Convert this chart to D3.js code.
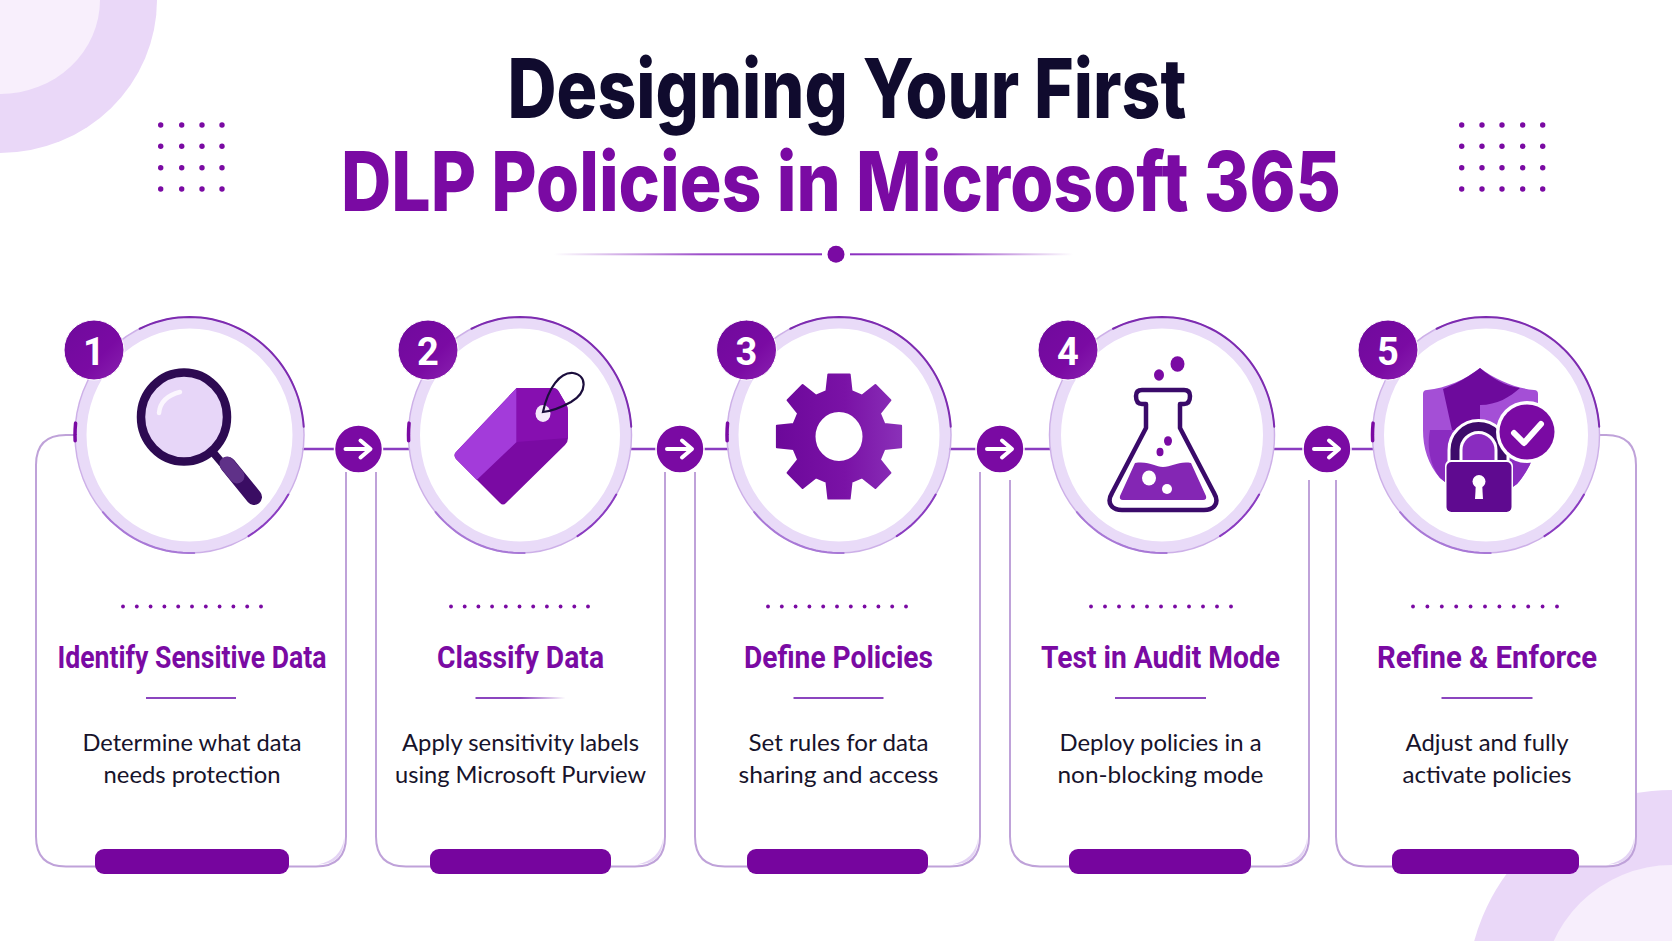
<!DOCTYPE html>
<html>
<head>
<meta charset="utf-8">
<title>Designing Your First DLP Policies in Microsoft 365</title>
<script src="https://cdn.jsdelivr.net/npm/d3@7/dist/d3.min.js"></script>
<style>
    html, body { margin: 0; padding: 0; background: #fff; overflow: hidden; }
    svg { display: block; }
</style>
</head>
<body>
<div id="chart"></div>
<script>
// chart content
const title_lines = ["Designing Your First", "DLP Policies in Microsoft 365"];
const steps = [1, 2, 3, 4, 5];
const step_titles = ["Identify Sensitive Data", "Classify Data", "Define Policies", "Test in Audit Mode", "Refine & Enforce"];
const step_lines_1 = ["Determine what data", "Apply sensitivity labels", "Set rules for data", "Deploy policies in a", "Adjust and fully"];
const step_lines_2 = ["needs protection", "using Microsoft Purview", "sharing and access", "non-blocking mode", "activate policies"];
const step_icons = ["magnifier", "tag", "gear", "flask", "shield"];

const width = 1672;
const height = 941;
const purple = "#7a0aa3";
const dark = "#100b2e";
const light = "#e9dbf8";

// layout scales, one output per step
const step_scale = (range) => d3.scaleOrdinal().domain(steps).range(range);
const ring_x = step_scale([189.5, 520, 839, 1162, 1486]);
const ring_rx = step_scale([114.5, 111.5, 112, 112.5, 113.5]);
const badge_x = step_scale([94, 428, 746.5, 1068, 1388]);
const card_left = step_scale([36, 376, 695, 1010, 1336]);
const card_right = step_scale([346, 665, 980, 1309, 1636]);
const tab_left = step_scale([95, 430, 747, 1069, 1392]);
const tab_right = step_scale([289, 611, 928, 1251, 1579]);
const text_x = step_scale([192, 520.5, 838.5, 1160.5, 1487]);
const title_w = step_scale([269, 167, 189, 239, 220]);
const line1_w = step_scale([219, 237, 180, 202, 163]);
const line2_w = step_scale([177, 251, 200, 206, 169]);
const dots_from = step_scale([123, 451, 768, 1091, 1413]);
const dots_to = step_scale([261, 588, 906, 1231, 1557]);
const rule_w = step_scale([90, 90, 90, 91, 91]);
const arrow_x = d3.scaleOrdinal().domain([1, 2, 3, 4]).range([358.5, 680, 1000, 1327]);

const ring_y = 435, ring_ry = 118, badge_y = 350, arrow_y = 449;
const card_top = 435, card_bottom = 866.5, card_r = 30;

const svg = d3.select("#chart").append("svg")
    .attr("width", width)
    .attr("height", height)
    .attr("viewBox", [0, 0, width, height]);

// gradients
const defs = svg.append("defs");
function add_gradient(id, stops, x2 = 1, y2 = 0) {
    const g = defs.append("linearGradient").attr("id", id)
        .attr("x1", 0).attr("y1", 0).attr("x2", x2).attr("y2", y2);
    stops.forEach(s => g.append("stop").attr("offset", s[0]).attr("stop-color", s[1]).attr("stop-opacity", s[2] === undefined ? 1 : s[2]));
}
add_gradient("divider_left", [[0, "#8b2fc0", 0], [0.55, "#8b2fc0", 0.85], [1, "#8b2fc0", 1]]);
add_gradient("divider_right", [[0, "#8b2fc0", 1], [0.45, "#8b2fc0", 0.85], [1, "#8b2fc0", 0]]);
add_gradient("rule_fade", [[0, "#8b45bf", 1], [0.5, "#8b45bf", 1], [1, "#8b45bf", 0]]);
add_gradient("gear_fill", [[0, "#6c089a"], [0.55, "#7a12a6"], [1, "#8a30b8"]]);
add_gradient("badge_fill", [[0, "#6f0a9c"], [0.6, "#7a0aa3"], [1, "#8a22b0"]], 1, 1);

// corner decoration
const deco = svg.append("g");
deco.append("ellipse").attr("cx", 0).attr("cy", 0).attr("rx", 157).attr("ry", 153).attr("fill", "#ead8f8");
deco.append("ellipse").attr("cx", 0).attr("cy", 0).attr("rx", 100).attr("ry", 94).attr("fill", "#f8effc");
deco.append("circle").attr("cx", 1672).attr("cy", 995).attr("r", 205).attr("fill", "#ead8f8");
deco.append("circle").attr("cx", 1672).attr("cy", 995).attr("r", 130).attr("fill", "#f7eefc");

// dot grids
[[160.7, 181.7, 202, 222], [1461.7, 1482, 1502, 1522.7, 1542.7]].forEach(xs => {
    [125, 146.3, 167.7, 189].forEach(y => {
        deco.selectAll(null).data(xs).join("circle")
            .attr("cx", d => d).attr("cy", y).attr("r", 2.7).attr("fill", purple);
    });
});

// heading
const heading = svg.append("g")
    .attr("font-family", "Inter, Roboto, sans-serif")
    .attr("font-weight", 800)
    .attr("font-size", 82);
heading.append("text").text(title_lines[0])
    .attr("x", 507.5).attr("y", 118)
    .attr("fill", dark)
    .attr("textLength", 679).attr("lengthAdjust", "spacingAndGlyphs");
heading.append("text").text(title_lines[1])
    .attr("x", 341).attr("y", 210.5)
    .attr("fill", purple)
    .attr("textLength", 1000).attr("lengthAdjust", "spacingAndGlyphs");

// divider under heading
svg.append("rect").attr("x", 554).attr("y", 253.3).attr("width", 268).attr("height", 2).attr("fill", "url(#divider_left)");
svg.append("rect").attr("x", 850).attr("y", 253.3).attr("width", 223).attr("height", 2).attr("fill", "url(#divider_right)");
svg.append("circle").attr("cx", 836).attr("cy", 254.3).attr("r", 8.5).attr("fill", purple);

// cards
function card_outline(i) {
    const l = card_left(i), r = card_right(i);
    const p = d3.path();
    if (i === 1) {
        p.moveTo(ring_x(i) - ring_rx(i), card_top);
        p.lineTo(l + card_r, card_top);
        p.quadraticCurveTo(l, card_top, l, card_top + card_r);
    } else {
        p.moveTo(l, i === 2 || i === 3 ? 472 : 480);
    }
    p.lineTo(l, card_bottom - card_r);
    p.quadraticCurveTo(l, card_bottom, l + card_r, card_bottom);
    p.lineTo(r - card_r, card_bottom);
    p.quadraticCurveTo(r, card_bottom, r, card_bottom - card_r);
    if (i === 5) {
        p.lineTo(r, card_top + card_r);
        p.quadraticCurveTo(r, card_top, r - card_r, card_top);
        p.lineTo(ring_x(i) + ring_rx(i), card_top);
    } else {
        p.lineTo(r, i === 4 ? 480 : 472);
    }
    return p.toString();
}

const card = svg.append("g").selectAll("g").data(steps).join("g");

card.append("rect")
    .attr("x", d => card_left(d))
    .attr("y", card_top)
    .attr("width", d => card_right(d) - card_left(d))
    .attr("height", card_bottom - card_top)
    .attr("rx", card_r)
    .attr("fill", "#fff");

// soft crescent in the lower right corner
card.append("path")
    .attr("d", d => {
        const r = card_right(d) - 2, b = card_bottom - 2;
        return `M${r},${b - 26}Q${r - 3},${b - 5} ${r - 26},${b}Q${r},${b} ${r},${b - 26}Z`;
    })
    .attr("fill", "#e4d4f4");

card.append("path")
    .attr("d", d => card_outline(d))
    .attr("fill", "none")
    .attr("stroke", "#bfa2d9")
    .attr("stroke-width", 2);

// connector lines
const links = svg.append("g").attr("stroke", "#8a3cc0").attr("stroke-width", 2.5);
links.selectAll("line").data(steps.slice(0, 4)).join("line")
    .attr("x1", d => ring_x(d) + ring_rx(d) - 2)
    .attr("x2", d => ring_x(d + 1) - ring_rx(d + 1) + 2)
    .attr("y1", arrow_y)
    .attr("y2", arrow_y);

// rings
const ring = svg.append("g").selectAll("g").data(steps).join("g");
ring.append("ellipse")
    .attr("cx", d => ring_x(d)).attr("cy", ring_y)
    .attr("rx", d => ring_rx(d) - 6).attr("ry", ring_ry - 6)
    .attr("fill", "#fff")
    .attr("stroke", light)
    .attr("stroke-width", 11);
ring.append("ellipse")
    .attr("cx", d => ring_x(d)).attr("cy", ring_y)
    .attr("rx", d => ring_rx(d)).attr("ry", ring_ry)
    .attr("fill", "none")
    .attr("stroke", "#cdb0e8")
    .attr("stroke-width", 1.5);

// darker parts of the ring edge: angle 0 is 12 o'clock, clockwise
function ring_arc(i, from, to) {
    const pts = d3.range(from, to + 0.01, 0.05).map(a => [
        ring_x(i) + ring_rx(i) * Math.sin(a),
        ring_y - ring_ry * Math.cos(a)
    ]);
    return d3.line()(pts);
}
[[-0.45, 1.5, "#7d2bb0", 2], [2.1, 2.6, "#8a3cc0", 2], [3.1, 4.0, "#a878d6", 2]].forEach(a => {
    ring.append("path")
        .attr("d", d => ring_arc(d, a[0], a[1]))
        .attr("fill", "none")
        .attr("stroke", a[2])
        .attr("stroke-width", a[3])
        .attr("stroke-linecap", "round");
});
// small mark on the left edge, the fourth ring has none
ring.filter(d => d !== 4).append("path")
    .attr("d", d => ring_arc(d, -1.62, -1.45))
    .attr("fill", "none")
    .attr("stroke", "#7a0aa3")
    .attr("stroke-width", 3.5)
    .attr("stroke-linecap", "round");

// number badges
svg.append("g").selectAll("circle").data(steps).join("circle")
    .attr("cx", d => badge_x(d)).attr("cy", badge_y).attr("r", 30)
    .attr("fill", "url(#badge_fill)")
    .attr("stroke", "#fff").attr("stroke-width", 1);
svg.append("g").selectAll("text").data(steps).join("text")
    .text(d => d)
    .attr("x", d => badge_x(d)).attr("y", 364.5)
    .attr("text-anchor", "middle")
    .attr("font-family", "Roboto, sans-serif")
    .attr("font-weight", 700)
    .attr("font-size", 38)
    .attr("fill", "#fff");

// arrows between the steps
const arrow = svg.append("g").selectAll("g").data(steps.slice(0, 4)).join("g")
    .attr("transform", d => `translate(${arrow_x(d)},${arrow_y})`);
arrow.append("circle").attr("r", 24).attr("fill", purple).attr("stroke", "#fff").attr("stroke-width", 1.5);
arrow.append("path")
    .attr("d", "M-13,0H11M2,-8.5L12,0L2,8.5")
    .attr("fill", "none")
    .attr("stroke", "#fff")
    .attr("stroke-width", 4)
    .attr("stroke-linecap", "round")
    .attr("stroke-linejoin", "round");

// icons
const icon_drawers = {
    magnifier(g) {
        g.append("path").attr("d", "M211,450L228,470").attr("stroke", "#2d0a52").attr("stroke-width", 8);
        g.append("ellipse").attr("cx", 184).attr("cy", 417).attr("rx", 43).attr("ry", 44.5)
            .attr("fill", "#e7d6f8").attr("stroke", "#2d0a52").attr("stroke-width", 8.5);
        g.append("path").attr("d", "M159,413C160,402 168,395 180,392")
            .attr("fill", "none").attr("stroke", "#fbf6fe").attr("stroke-width", 4.5).attr("stroke-linecap", "round");
        g.append("path").attr("d", "M228,465L254,497")
            .attr("stroke", "#3a0d63").attr("stroke-width", 16).attr("stroke-linecap", "round");
        g.append("path").attr("d", "M227,464L237,476").attr("stroke", "#5f3188").attr("stroke-width", 15).attr("stroke-linecap", "round");
    },
    tag(g) {
        g.append("path").attr("d", "M516.6,388H553Q557,388 559,392L566,404Q568,407 568,411V438Q568,442 565,445L506,503Q503,506 500,503L456,459Q453,455 456,452Z")
            .attr("fill", "#7a0aa3");
        g.append("path").attr("d", "M516.6,388V442L476.7,480L456,459Q453,455 456,452Z").attr("fill", "#a33bda");
        g.append("path").attr("d", "M516.6,388H553Q557,388 559,392L566,404Q568,407 568,411V438L516.6,442Z").attr("fill", "#860fb0");
        g.append("ellipse").attr("cx", 543).attr("cy", 413.5).attr("rx", 7.5).attr("ry", 8.5).attr("fill", "#f4e9fb");
        g.append("path").attr("d", "M543,412C548,388 560,372 573,373C587,375 588,392 571,402C562,407 552,411 543,412Z")
            .attr("fill", "none").attr("stroke", "#1b0d3c").attr("stroke-width", 2.2);
    },
    gear(g) {
        const cx = 839, cy = 436.5;
        const teeth = 8;
        const pts = [];
        d3.range(teeth).forEach(i => {
            const a = i * 2 * Math.PI / teeth;
            const w_base = 0.27, w_tip = 0.17;
            [[47, -w_base], [63, -w_tip], [63, w_tip], [47, w_base]].forEach(p => {
                pts.push([cx + p[0] * Math.sin(a + p[1]), cy - p[0] * Math.cos(a + p[1])]);
            });
        });
        g.append("path")
            .attr("d", d3.line()(pts) + "Z" + `M${cx - 24.5},${cy}a24.5,25.5 0 1,0 49,0a24.5,25.5 0 1,0 -49,0Z`)
            .attr("fill", "url(#gear_fill)")
            .attr("fill-rule", "evenodd")
            .attr("stroke", "url(#gear_fill)")
            .attr("stroke-width", 2)
            .attr("stroke-linejoin", "round");
    },
    flask(g) {
        g.append("path")
            .attr("d", "M1135,463C1150,461 1155,467 1163,467C1172,467 1178,461 1191,463L1206,496Q1207,500 1203,500H1123Q1119,500 1120,496Z")
            .attr("fill", "#8426b4");
        g.append("path")
            .attr("d", "M1146,404V428L1112,493C1106,503 1112,510 1122,510H1204C1214,510 1220,503 1214,493L1180,428V404H1184Q1190,404 1190,396Q1190,390 1184,390H1142Q1136,390 1136,396Q1136,404 1142,404Z")
            .attr("fill", "none")
            .attr("stroke", "#3a0a6a")
            .attr("stroke-width", 4.5)
            .attr("stroke-linejoin", "round");
        g.append("ellipse").attr("cx", 1149).attr("cy", 478).attr("rx", 7).attr("ry", 7.5).attr("fill", "#fff");
        g.append("circle").attr("cx", 1167).attr("cy", 489).attr("r", 5).attr("fill", "#fff");
        [[1168, 441, 4], [1160, 452, 3.5], [1177.5, 364, 7], [1159, 375, 5]].forEach(b => {
            g.append("ellipse").attr("cx", b[0]).attr("cy", b[1]).attr("rx", b[2]).attr("ry", b[2] + 0.8).attr("fill", "#7a0aa3");
        });
    },
    shield(g) {
        const shield = "M1480,368C1496,380 1515,388 1534,390Q1538,390 1538,394V430C1538,452 1528,472 1517,484L1480,510L1440,478C1428,464 1423,448 1423,430V394Q1423,390 1427,390C1446,388 1465,380 1480,368Z";
        g.append("path").attr("d", shield).attr("fill", "#a44fd6");
        g.append("path").attr("d", "M1480,368C1465,380 1446,388 1443,389L1452,430H1480V405C1497,405 1510,397 1520,388C1505,386 1492,378 1480,368Z").attr("fill", "#6d0a9c");
        g.append("path").attr("d", "M1430,430H1480V510L1440,478C1432,468 1426,450 1430,430Z").attr("fill", "#8a2cc0");
        g.append("path").attr("d", "M1480,430H1538C1538,452 1528,472 1517,484L1480,510Z").attr("fill", "#8a2cc0");
        // lock
        g.append("path").attr("d", "M1455,465V450A23.5,23.5 0 0 1 1502,450V465")
            .attr("fill", "none").attr("stroke", "#fff").attr("stroke-width", 15);
        g.append("path").attr("d", "M1455,465V450A23.5,23.5 0 0 1 1502,450V465")
            .attr("fill", "none").attr("stroke", "#3d0a6a").attr("stroke-width", 9);
        g.append("rect").attr("x", 1445).attr("y", 460).attr("width", 68).attr("height", 54).attr("rx", 6).attr("fill", "#fff");
        g.append("rect").attr("x", 1446.5).attr("y", 462).attr("width", 65).attr("height", 50).attr("rx", 5).attr("fill", "#5f0a90");
        g.append("circle").attr("cx", 1479).attr("cy", 481.5).attr("r", 6.5).attr("fill", "#fff");
        g.append("path").attr("d", "M1476,482H1482L1483,499H1475Z").attr("fill", "#fff");
        // check
        g.append("circle").attr("cx", 1527).attr("cy", 432).attr("r", 31).attr("fill", "#fff");
        g.append("circle").attr("cx", 1527).attr("cy", 432).attr("r", 27.5).attr("fill", "#7a0aa3");
        g.append("path").attr("d", "M1514,433L1524,443L1541,424")
            .attr("fill", "none").attr("stroke", "#fff").attr("stroke-width", 6).attr("stroke-linecap", "round").attr("stroke-linejoin", "round");
    }
};
step_icons.forEach(name => icon_drawers[name](svg.append("g").attr("class", "icon")));

// dotted row above each title
steps.forEach(d => {
    const dot_scale = d3.scaleLinear().domain([0, 10]).range([dots_from(d), dots_to(d)]);
    svg.append("g").selectAll("circle").data(d3.range(11)).join("circle")
        .attr("cx", k => dot_scale(k))
        .attr("cy", 606.5)
        .attr("r", 1.9)
        .attr("fill", purple);
});

// card titles
svg.append("g").selectAll("text").data(steps).join("text")
    .text(d => step_titles[d - 1])
    .attr("x", d => text_x(d))
    .attr("y", 668)
    .attr("text-anchor", "middle")
    .attr("font-family", "Roboto, sans-serif")
    .attr("font-weight", 700)
    .attr("font-size", 32)
    .attr("fill", purple)
    .attr("textLength", d => title_w(d))
    .attr("lengthAdjust", "spacingAndGlyphs");

// short rules under titles
svg.append("g").selectAll("rect").data(steps).join("rect")
    .attr("x", d => text_x(d) - rule_w(d) / 2 - (d === 1 ? 1 : 0))
    .attr("y", 697)
    .attr("width", d => rule_w(d))
    .attr("height", 2)
    .attr("fill", d => d === 2 ? "url(#rule_fade)" : "#8b45bf");

// description lines
[[step_lines_1, line1_w, 750.5], [step_lines_2, line2_w, 782.5]].forEach(row => {
    svg.append("g").selectAll("text").data(steps).join("text")
        .text(d => row[0][d - 1])
        .attr("x", d => text_x(d))
        .attr("y", row[2])
        .attr("text-anchor", "middle")
        .attr("font-family", "Lato, 'Noto Sans', sans-serif")
        .attr("font-size", 24)
        .attr("fill", "#17132b")
        .attr("textLength", d => row[1](d))
        .attr("lengthAdjust", "spacingAndGlyphs");
});

// tabs on the bottom edge of the cards
svg.append("g").selectAll("rect").data(steps).join("rect")
    .attr("x", d => tab_left(d))
    .attr("y", 849)
    .attr("width", d => tab_right(d) - tab_left(d))
    .attr("height", 25)
    .attr("rx", 9)
    .attr("fill", "#76059e");
</script>
</body>
</html>
